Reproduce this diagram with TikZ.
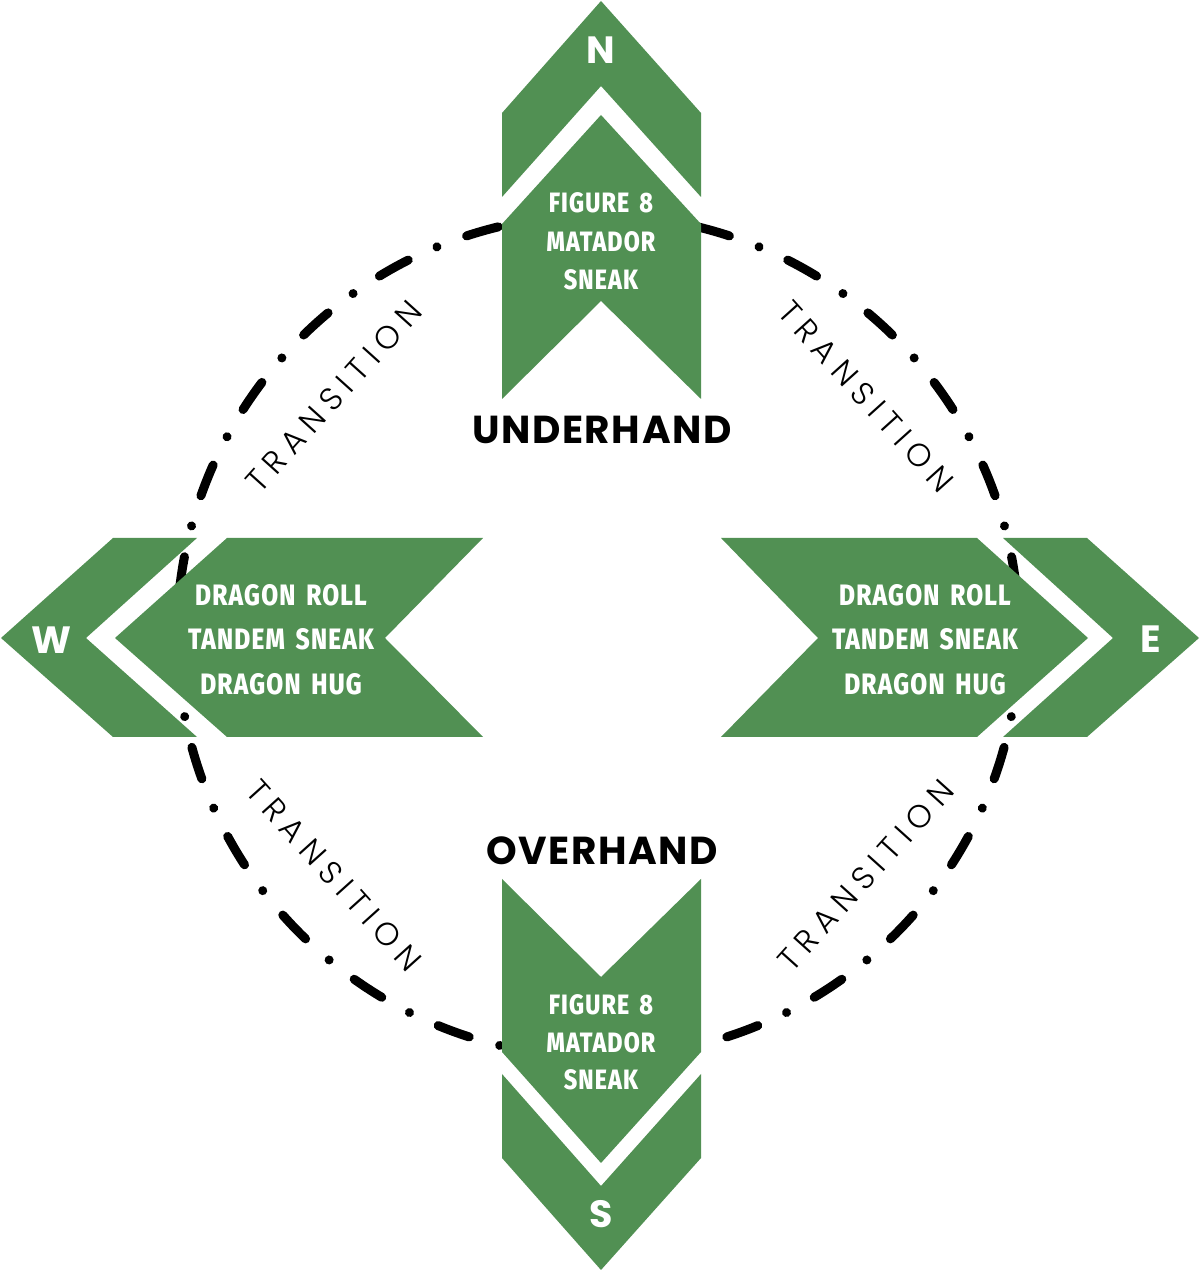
\documentclass[tikz,border=0pt]{standalone}
\usepackage{fontspec}
\setmainfont{Poppins}
\newfontfamily\geofont{Poppins}[LetterSpace=4]
\newfontfamily\dirfont{Poppins}
\IfFontExistsTF{Poppins Light}{\newfontfamily\tfont{Poppins Light}[LetterSpace=24]}{\newfontfamily\tfont{Poppins}[LetterSpace=24]}
\IfFontExistsTF{Fira Sans ExtraBold}
  {\newfontfamily\condfont{Fira Sans ExtraBold}[FakeStretch=0.83,LetterSpace=4,WordSpace=1.6]}
  {\newfontfamily\condfont{Fira Sans Bold}[FakeStretch=0.85,LetterSpace=4,WordSpace=1.6]}
\definecolor{chevgreen}{RGB}{81,144,83}
\tikzset{
  chev/.style={fill=chevgreen,draw=none},
  ring/.style={line width=9pt,line cap=round,
    dash pattern=on 0.01pt off 31.6pt on 33pt off 31.6pt,dash phase=27.2pt},
  lbl/.style={font=\geofont\bfseries\fontsize{39}{40}\selectfont,text=black,inner sep=0pt,anchor=base},
  dirlbl/.style={font=\dirfont\bfseries\fontsize{38}{40}\selectfont,text=white,inner sep=0pt,anchor=base},
  mvns/.style={font=\condfont\fontsize{28}{30}\selectfont,text=white,inner sep=0pt,anchor=base},
  mvwe/.style={font=\condfont\fontsize{29.5}{30}\selectfont,text=white,inner sep=0pt,anchor=base},
  trn/.style={font=\tfont\fontsize{32}{34}\selectfont,text=black,inner sep=0pt,anchor=center}
}
\begin{document}
\begin{tikzpicture}[x=1pt,y=1pt]
\useasboundingbox (0,0) rectangle (1200,1272);
% dashed circle (behind the chevrons)
\coordinate (ctop) at (598,1057);
\draw[ring] (ctop) arc[start angle=90,end angle=-90,radius=421];
\draw[ring] (ctop) arc[start angle=90,end angle=270,radius=421];
% North
\fill[chev] (502,1159) -- (601,1271) -- (701,1159) -- (701,1075) -- (601,1186) -- (502,1075) -- cycle;
\fill[chev] (601,1157) -- (701,1048) -- (701,873) -- (601,971) -- (502,873) -- (502,1048) -- cycle;
% South
\fill[chev] (502,393) -- (601,295) -- (701,393) -- (701,220) -- (601,109) -- (502,220) -- cycle;
\fill[chev] (502,198) -- (601,86) -- (701,198) -- (701,114) -- (601,2) -- (502,114) -- cycle;
% West
\fill[chev] (1,634) -- (113,734) -- (197,734) -- (86,634) -- (197,535) -- (113,535) -- cycle;
\fill[chev] (115,634) -- (227,734) -- (483,734) -- (385,634) -- (483,535) -- (227,535) -- cycle;
% East
\fill[chev] (721,734) -- (977,734) -- (1088,634) -- (977,535) -- (721,535) -- (818,634) -- cycle;
\fill[chev] (1003,734) -- (1087,734) -- (1199,634) -- (1087,535) -- (1003,535) -- (1113,634) -- cycle;
% direction letters
\node[dirlbl] (dn) at (601,1208) {N};
\node[dirlbl] (ds) at (601,44) {S};
\node[dirlbl] (dw) at (51,618) {W};
\node[dirlbl] (de) at (1151,619) {E};
% headings
\node[lbl] (under) at (602,828) {UNDERHAND};
\node[lbl] (over) at (602,407) {OVERHAND};
% north moves
\node[mvns] (n1) at (601,1059) {FIGURE 8};
\node[mvns] (n2) at (601,1020) {MATADOR};
\node[mvns] (n3) at (601,982) {SNEAK};
% south moves
\node[mvns] (s1) at (601,257) {FIGURE 8};
\node[mvns] (s2) at (601,219) {MATADOR};
\node[mvns] (s3) at (601,182) {SNEAK};
% west moves
\node[mvwe] (w1) at (281,666) {DRAGON ROLL};
\node[mvwe] (w2) at (281,622) {TANDEM SNEAK};
\node[mvwe] (w3) at (281,577) {DRAGON HUG};
% east moves
\node[mvwe] (e1) at (925,666) {DRAGON ROLL};
\node[mvwe] (e2) at (925,622) {TANDEM SNEAK};
\node[mvwe] (e3) at (925,577) {DRAGON HUG};
% transitions
\node[trn,rotate=48] (t1) at (334,875.5) {TRANSITION};
\node[trn,rotate=-48] (t2) at (866,875.5) {TRANSITION};
\node[trn,rotate=-48] (t3) at (334,396.5) {TRANSITION};
\node[trn,rotate=48] (t4) at (866,396.5) {TRANSITION};
\end{tikzpicture}
\end{document}
